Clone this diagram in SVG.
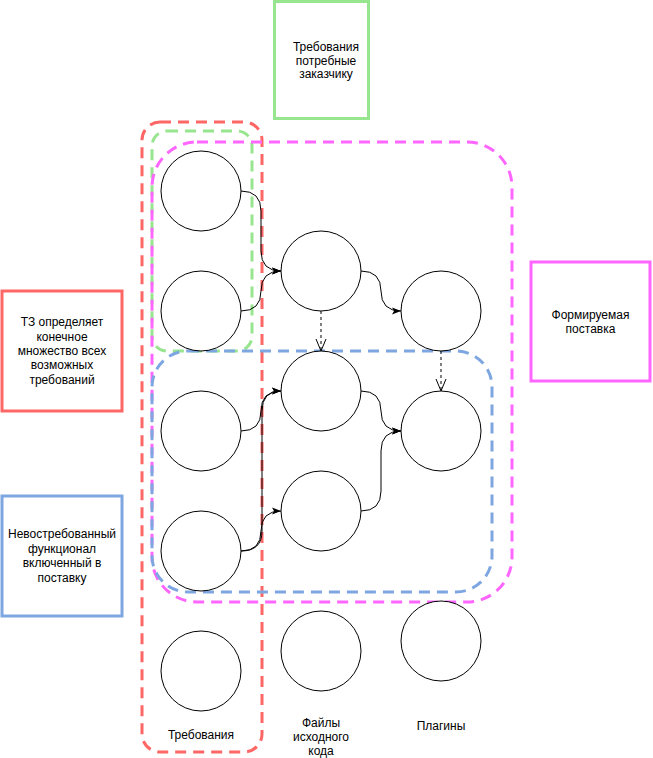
<svg xmlns="http://www.w3.org/2000/svg" width="653" height="758" viewBox="0 0 653 758">
<style>
.c{fill:#fff;stroke:#000;stroke-width:1}
.grp{fill:none;stroke-width:3;stroke-dasharray:11 7}
.box{fill:#fff;stroke-width:3}
.e{fill:none;stroke:#000;stroke-width:1}
.d{stroke-dasharray:3 3}
text{font-family:"Liberation Sans",Helvetica,Arial,sans-serif;font-size:12px;fill:#000;text-anchor:middle}
</style>
<defs>
<marker id="arrow" markerUnits="userSpaceOnUse" markerWidth="10" markerHeight="10" viewBox="0 0 10 10" refX="10" refY="5" orient="auto"><path d="M1,1.5 L10,5 L1,8.5 L3,5 Z" fill="#000"/></marker>
<marker id="open" markerUnits="userSpaceOnUse" markerWidth="14" markerHeight="14" viewBox="0 0 14 14" refX="13" refY="7" orient="auto"><path d="M1,2 L13,7 L1,12" fill="none" stroke="#000" stroke-width="1"/></marker>
</defs>

<g id="containers">
<rect id="grp-red" class="grp" x="142" y="122" width="120" height="630" rx="18" stroke="#FF6666"/>
<rect id="grp-green" class="grp" x="152" y="131" width="100" height="220" rx="15" stroke="#97E58F"/>
<rect id="grp-magenta" class="grp" x="152" y="142" width="360" height="460" rx="45" stroke="#FF66FF"/>
<rect id="grp-blue" class="grp" x="152" y="351" width="340" height="241" rx="36" stroke="#7EA6E0"/>
</g>

<g id="note-top">
<rect class="box" x="274.5" y="1.5" width="94" height="117" stroke="#97E58F"/>
<text x="326" y="51">Требования</text>
<text x="326" y="64.5">потребные</text>
<text x="326" y="78">заказчику</text>
</g>
<g id="note-tz">
<rect class="box" x="2" y="291" width="120" height="120" stroke="#FF6666"/>
<text x="62" y="326.2">ТЗ определяет</text>
<text x="62" y="340.6">конечное</text>
<text x="62" y="355">множество всех</text>
<text x="62" y="369.4">возможных</text>
<text x="62" y="383.8">требований</text>
</g>
<g id="note-unused">
<rect class="box" x="2" y="496" width="120" height="120" stroke="#7EA6E0"/>
<text x="62" y="538.4">Невостребованный</text>
<text x="62" y="552.8">функционал</text>
<text x="62" y="567.2">включенный в</text>
<text x="62" y="581.6">поставку</text>
</g>
<g id="note-delivery">
<rect class="box" x="531" y="262" width="119" height="119" stroke="#FF66FF"/>
<text x="590.5" y="318.8">Формируемая</text>
<text x="590.5" y="333.2">поставка</text>
</g>

<g id="connectors">
<path class="e" d="M241,191 Q261,191 261,211 L261,251 Q261,271 281,271" marker-end="url(#arrow)"/>
<path class="e" d="M241,311 Q261,311 261,291 Q261,271 281,271" marker-end="url(#arrow)"/>
<path class="e" d="M361,271 Q381,271 381,291 Q381,311 401,311" marker-end="url(#arrow)"/>
<path class="e d" d="M321,311 L321,351" marker-end="url(#open)"/>
<path class="e d" d="M441,351 L441,391" marker-end="url(#open)"/>
<path class="e" d="M241,431 Q261,431 261,411 Q261,391 281,391" marker-end="url(#arrow)"/>
<path class="e" d="M241,551 Q262,551 262,531 L262,411 Q262,391 281,391" marker-end="url(#arrow)"/>
<path class="e" d="M241,551 Q261,551 261,531 Q261,511 281,511" marker-end="url(#arrow)"/>
<path class="e" d="M361,391 Q381,391 381,411 Q381,431 401,431" marker-end="url(#arrow)"/>
<path class="e" d="M361,511 Q381,511 381,491 L381,451 Q381,431 401,431" marker-end="url(#arrow)"/>
</g>

<g id="r1"><circle class="c" cx="201" cy="191" r="40"/></g>
<g id="r2"><circle class="c" cx="201" cy="311" r="40"/></g>
<g id="r3"><circle class="c" cx="201" cy="431" r="40"/></g>
<g id="r4"><circle class="c" cx="201" cy="551" r="40"/></g>
<g id="r5"><circle class="c" cx="201" cy="671" r="40"/></g>
<g id="f1"><circle class="c" cx="321" cy="271" r="40"/></g>
<g id="f2"><circle class="c" cx="321" cy="391" r="40"/></g>
<g id="f3"><circle class="c" cx="321" cy="511" r="40"/></g>
<g id="f4"><circle class="c" cx="321" cy="651" r="40"/></g>
<g id="p1"><circle class="c" cx="441" cy="311" r="40"/></g>
<g id="p2"><circle class="c" cx="441" cy="431" r="40"/></g>
<g id="p3"><circle class="c" cx="441" cy="641" r="40"/></g>

<g id="label-req"><text x="201" y="739">Требования</text></g>
<g id="label-files">
<text x="321" y="727">Файлы</text>
<text x="321" y="741">исходного</text>
<text x="321" y="755">кода</text>
</g>
<g id="label-plugins"><text x="441" y="730">Плагины</text></g>
</svg>
